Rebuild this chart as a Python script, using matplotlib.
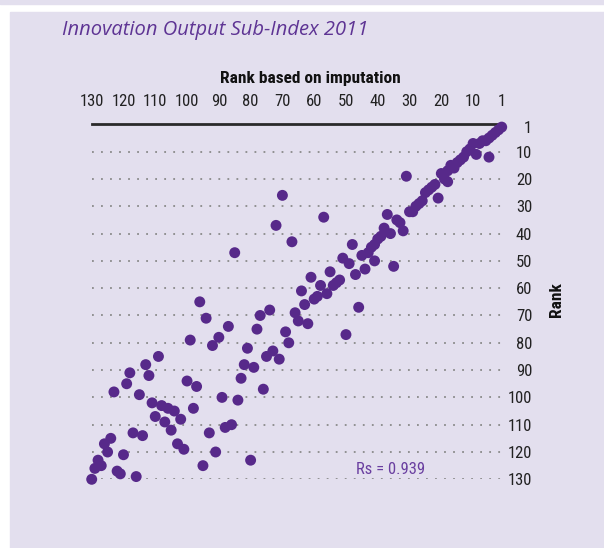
import matplotlib
matplotlib.use("Agg")
import matplotlib.pyplot as plt
from matplotlib import font_manager
from matplotlib.patches import Rectangle

# rank based on imputation (top axis) vs. rank (right axis)
imp_rank = [1, 2, 3, 4, 5, 6, 7, 8, 10, 11, 12, 9, 5, 13, 14, 15, 16, 17, 18, 20,
            19, 18, 31, 22, 23, 24, 25, 21, 26, 27, 28, 29, 30,
            37, 57, 34, 33, 38, 32, 36, 39, 40, 41, 42, 43, 45, 48, 51, 49, 41,
            44, 47, 35, 55, 61, 52, 53, 58, 54, 56, 64, 59, 60, 63, 46, 66, 65,
            62, 50,
            70, 72, 67, 85,
            96, 94, 77, 74, 78, 87, 90, 92, 99, 69, 68, 81, 73, 75, 71, 82, 79,
            83, 76, 89, 84, 109, 113, 112, 118, 119, 123, 115, 100, 97, 98, 111,
            108, 106, 104, 102, 110, 107, 105, 103, 101, 93, 88, 86, 91, 95, 80,
            117, 114, 124, 126, 125, 120, 128, 127, 129, 122, 121, 116, 130]
rank = [1, 2, 3, 4, 5, 6, 6, 7, 7, 9, 10, 11, 12, 12, 13, 14, 16, 15, 17, 18,
        20, 21, 19, 22, 23, 24, 25, 27, 28, 29, 30, 32, 32,
        33, 34, 35, 36, 38, 39, 40, 41, 42, 44, 45, 47, 48, 44, 49, 51, 50,
        53, 55, 52, 54, 56, 57, 58, 59, 59, 62, 61, 63, 64, 66, 67, 69, 72,
        73, 77,
        26, 37, 43, 47,
        65, 71, 70, 68, 75, 74, 78, 81, 79, 76, 80, 82, 83, 85, 86, 88, 89,
        93, 97, 100, 101, 85, 88, 92, 91, 95, 98, 99, 94, 96, 104, 102,
        103, 104, 105, 108, 107, 109, 112, 117, 119, 113, 111, 110, 120, 125, 123,
        113, 114, 115, 117, 120, 121, 123, 125, 126, 127, 128, 129, 130]

x_ticks = [130, 120, 110, 100, 90, 80, 70, 60, 50, 40, 30, 20, 10, 1]
y_ticks = [1, 10, 20, 30, 40, 50, 60, 70, 80, 90, 100, 110, 120, 130]
grid_ranks = y_ticks[1:]

purple = '#57298a'
lavender = '#e3dfee'

# pick a condensed face if one is around, otherwise a plain sans
installed = {f.name for f in font_manager.fontManager.ttflist}
narrow = [f for f in ['Liberation Sans Narrow', 'Roboto Condensed', 'Open Sans Condensed']
          if f in installed] + ['Liberation Sans', 'DejaVu Sans']
condensed = narrow[0] != 'Liberation Sans'
tsize = 12 if condensed else 10.5
hsize = 12.5 if condensed else 11.5

fig = plt.figure(figsize=(6.04, 5.48), dpi=100, facecolor='white')
W, H = 604, 548
fig.patches.append(Rectangle((10 / W, 0), 1, 536 / H, transform=fig.transFigure,
                             color=lavender, zorder=-10))
fig.patches.append(Rectangle((0, 544 / H), 1, 4 / H, transform=fig.transFigure,
                             color=lavender, zorder=-10))

ax = fig.add_axes([91.7 / W, 1 - 479.3 / H, 410 / W, 352.2 / H])
ax.set_facecolor('none')
ax.set_xlim(130, 1)
ax.set_ylim(130, 1)
for s in ax.spines.values():
    s.set_visible(False)

ax.hlines(grid_ranks, 130, 1, colors='#8a8a8a', linestyles=(0, (1, 4)), lw=1.3)
ax.axhline(0, color='#2a2a2a', lw=2, clip_on=False)

ax.scatter(imp_rank, rank, s=62, color=purple, edgecolors='none', clip_on=False, zorder=3)

ax.xaxis.tick_top()
ax.set_xticks(x_ticks)
ax.set_xticklabels([str(v) for v in x_ticks], family=narrow, fontsize=tsize, color='#222222')
ax.tick_params(axis='x', length=0, pad=13)

ax.yaxis.tick_right()
ax.set_yticks(y_ticks)
ax.set_yticklabels([str(v) for v in y_ticks], family=narrow, fontsize=tsize, color='#222222')
ax.tick_params(axis='y', length=0, pad=22)
for lab in ax.get_yticklabels():
    lab.set_horizontalalignment('right')

fig.text(62 / W, 1 - 30 / H, 'Innovation Output Sub-Index 2011', fontsize=14.5,
         style='italic', color='#5e3494', family=['Open Sans', 'DejaVu Sans'],
         va='center', ha='left')
fig.text(310 / W, 1 - 78 / H, 'Rank based on imputation', fontsize=hsize,
         weight='bold', family=narrow, color='#111111', ha='center', va='center')
fig.text(556 / W, 1 - 300 / H, 'Rank', fontsize=hsize, weight='bold', family=narrow,
         rotation=90, ha='center', va='center', color='#111111')
ax.text(36, 126.5, 'Rs = 0.939', fontsize=tsize, family=narrow, color='#6a3fa0',
        ha='center', va='center')

fig.savefig('out.png', dpi=100, facecolor=fig.get_facecolor())
